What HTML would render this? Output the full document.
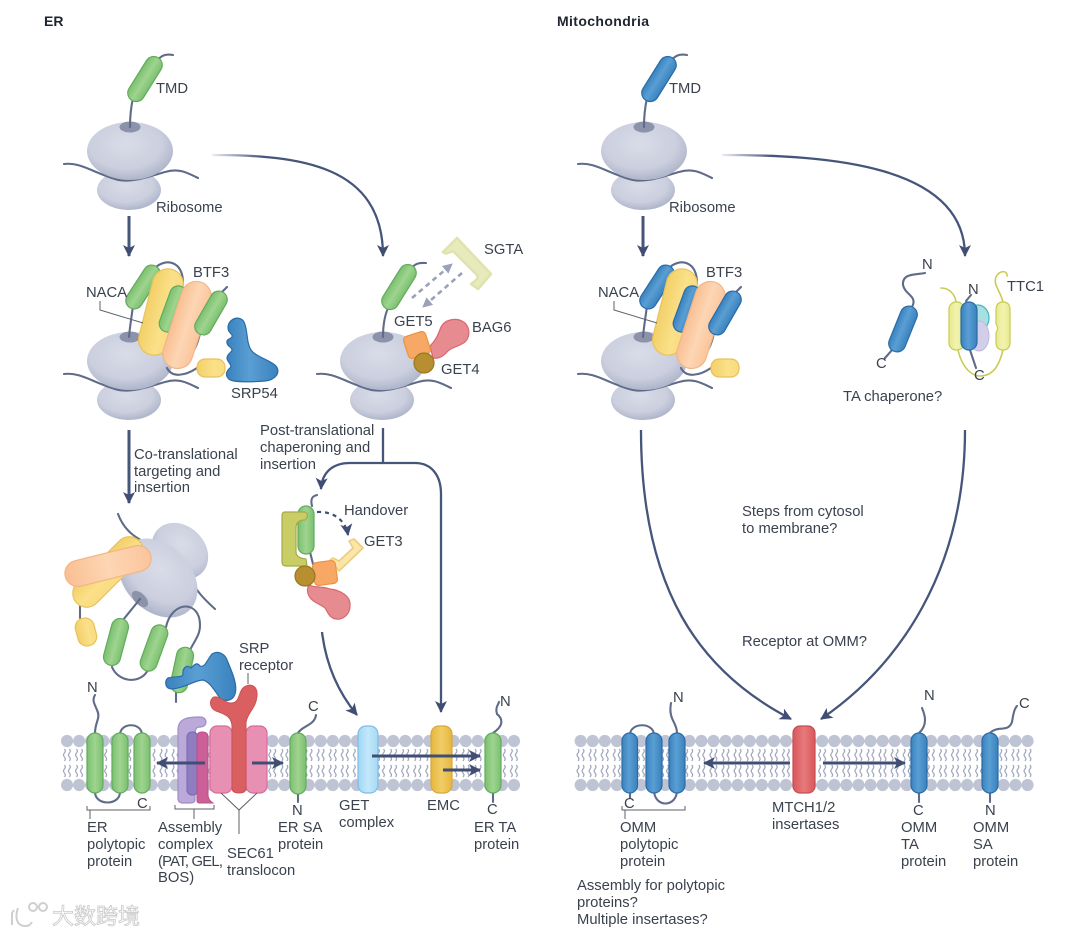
<!DOCTYPE html>
<html><head><meta charset="utf-8"><style>
html,body{margin:0;padding:0;background:#fff}
svg{display:block}
text{font-family:"Liberation Sans","Noto Sans CJK SC",sans-serif;font-size:14.8px;fill:#3a424e}
.b{font-weight:bold;font-size:14px;fill:#1e2530}
.l{fill:none;stroke:#5f6b88;stroke-width:2.1;stroke-linecap:round}
.a{fill:none;stroke:#46557a;stroke-width:2.3}
.s{fill:none;stroke:#46557a;stroke-width:3}
.m{fill:none;stroke:#414e74;stroke-width:3}
.k{fill:none;stroke:#5c6068;stroke-width:1}
.g{fill:url(#gG);stroke:#62ab5c;stroke-width:1.2}
.u{fill:url(#gB);stroke:#2a6ba6;stroke-width:1.2}
.y{fill:url(#gY);stroke:#e8c25c;stroke-width:1.2}
.o{fill:url(#gO);stroke:#f3b585;stroke-width:1.2}
.p{fill:#e68b90;stroke:#d9686f;stroke-width:1.2}
.q{fill:#f6a864;stroke:#ee9242;stroke-width:1.2}
.c{fill:#b78f31;stroke:#997820;stroke-width:1.2}
.t{fill:url(#gT);stroke:#c9cc52;stroke-width:1.2}
.w{fill:none;stroke:#c9cb55;stroke-width:1.6;stroke-linecap:round}
</style></head><body>
<svg xmlns="http://www.w3.org/2000/svg" width="1080" height="936" viewBox="0 0 1080 936">
<defs>
<radialGradient id="rb" cx=".45" cy=".38" r=".68"><stop offset="0" stop-color="#d9dce8"/><stop offset=".62" stop-color="#cbcfde"/><stop offset=".86" stop-color="#b4bace"/><stop offset="1" stop-color="#a6adc3"/></radialGradient>
<linearGradient id="gG"><stop offset="0" stop-color="#7cc070"/><stop offset=".5" stop-color="#9ed48f"/><stop offset="1" stop-color="#7cc070"/></linearGradient>
<linearGradient id="gB"><stop offset="0" stop-color="#3a82bf"/><stop offset=".45" stop-color="#5a9fd3"/><stop offset="1" stop-color="#3a82bf"/></linearGradient>
<linearGradient id="gY"><stop offset="0" stop-color="#f3d068"/><stop offset=".6" stop-color="#fae089"/><stop offset="1" stop-color="#f8dc80"/></linearGradient>
<linearGradient id="gO"><stop offset="0" stop-color="#f9bf92"/><stop offset=".5" stop-color="#fdd6b4"/><stop offset="1" stop-color="#fac59c"/></linearGradient>
<linearGradient id="gT"><stop offset="0" stop-color="#e8ea8e"/><stop offset=".5" stop-color="#f2f3ae"/><stop offset="1" stop-color="#e8ea8e"/></linearGradient>
<linearGradient id="gC"><stop offset="0" stop-color="#9fd6f5"/><stop offset=".5" stop-color="#c3e7fa"/><stop offset="1" stop-color="#a6daf6"/></linearGradient>
<linearGradient id="gE"><stop offset="0" stop-color="#e5b63f"/><stop offset=".5" stop-color="#f0cd68"/><stop offset="1" stop-color="#e5b63f"/></linearGradient>
<linearGradient id="gR"><stop offset="0" stop-color="#d9575c"/><stop offset=".5" stop-color="#e67a7c"/><stop offset="1" stop-color="#d9575c"/></linearGradient>
<linearGradient id="fd" gradientUnits="userSpaceOnUse" x1="212" y1="0" x2="262" y2="0"><stop offset="0" stop-color="#46557a" stop-opacity=".1"/><stop offset="1" stop-color="#46557a"/></linearGradient>
<linearGradient id="fd2" gradientUnits="userSpaceOnUse" x1="722" y1="0" x2="772" y2="0"><stop offset="0" stop-color="#46557a" stop-opacity=".1"/><stop offset="1" stop-color="#46557a"/></linearGradient>
<marker id="ar" markerUnits="userSpaceOnUse" markerWidth="14" markerHeight="14" refX="11" refY="6" orient="auto"><path d="M0 0 L12 6 L0 12 L3 6Z" fill="#414e74"/></marker>
<marker id="ag" markerUnits="userSpaceOnUse" markerWidth="14" markerHeight="14" refX="9" refY="6" orient="auto"><path d="M0 1 L10 6 L0 11Z" fill="#9aa1b8"/></marker>
<pattern id="mem" patternUnits="userSpaceOnUse" x="61" y="734" width="12.08" height="58">
<path d="M3.4 15 q1.8 2 0 4 q-1.8 2 0 4 q1.8 2 0 4 M8.4 15 q1.8 2 0 4 q-1.8 2 0 4 q1.8 2 0 4 M3.4 31 q1.8 2 0 4 q-1.8 2 0 4 q1.8 2 0 4 M8.4 31 q1.8 2 0 4 q-1.8 2 0 4 q1.8 2 0 4" fill="none" stroke="#98a0b8" stroke-width="1.15"/>
<circle cx="6.04" cy="7" r="6.1" fill="#bfc4d4"/><circle cx="6.04" cy="51" r="6.1" fill="#bfc4d4"/>
</pattern>
<pattern id="mem2" patternUnits="userSpaceOnUse" x="574.6" y="734" width="12.08" height="58">
<path d="M3.4 15 q1.8 2 0 4 q-1.8 2 0 4 q1.8 2 0 4 M8.4 15 q1.8 2 0 4 q-1.8 2 0 4 q1.8 2 0 4 M3.4 31 q1.8 2 0 4 q-1.8 2 0 4 q1.8 2 0 4 M8.4 31 q1.8 2 0 4 q-1.8 2 0 4 q1.8 2 0 4" fill="none" stroke="#98a0b8" stroke-width="1.15"/>
<circle cx="6.04" cy="7" r="6.1" fill="#bfc4d4"/><circle cx="6.04" cy="51" r="6.1" fill="#bfc4d4"/>
</pattern>
<g id="top">
<ellipse cx="130" cy="151" rx="43" ry="29" fill="url(#rb)"/>
<ellipse cx="130" cy="127" rx="10.5" ry="5.5" fill="#8b92aa"/>
</g>
<g id="bot">
<ellipse cx="129" cy="190" rx="32" ry="20" fill="url(#rb)"/>
</g>
<g id="rib">
<use href="#bot"/>
<path class="l" d="M64 164 C80 162 92 172 115 179 C130 184 150 176 165 172 C178 168 186 172 198 178"/>
<use href="#top"/>
</g>
</defs>

<rect width="1080" height="936" fill="#fff"/>
<text class="b" x="44" y="26">ER</text>
<text class="b" x="557" y="26" textLength="92">Mitochondria</text>

<!-- top ER -->
<use href="#rib"/>
<path class="l" d="M130 127 C130 115 131 107 133 98"/>
<path class="l" d="M158 60 C162 54 168 54 173 55"/>
<g transform="translate(145,79) rotate(32)"><rect x="-8.5" y="-25" width="17" height="50" rx="8.5" class="g"/></g>
<text x="156" y="93">TMD</text>
<text x="156" y="212">Ribosome</text>

<!-- top Mito -->
<use href="#rib" x="514"/>
<path class="l" d="M644 127 C644 115 645 107 647 98"/>
<path class="l" d="M672 60 C676 54 682 54 687 55"/>
<g transform="translate(659,79) rotate(32)"><rect x="-8.5" y="-25" width="17" height="50" rx="8.5" class="u"/></g>
<text x="669" y="93">TMD</text>
<text x="669" y="212">Ribosome</text>

<!-- main arrows -->
<path class="s" d="M129 216 V256" marker-end="url(#ar)"/>
<path class="s" d="M643 216 V256" marker-end="url(#ar)"/>
<path d="M212 155 C300 155 383 165 383 256" fill="none" stroke="url(#fd)" stroke-width="2.3" marker-end="url(#ar)"/>
<path d="M722 155 C830 155 965 165 965 256" fill="none" stroke="url(#fd2)" stroke-width="2.3" marker-end="url(#ar)"/>
<path class="s" d="M129 430 V503" marker-end="url(#ar)"/>
<path class="a" d="M383 428 V463 H415 C432 463 441 476 441 494 V712" marker-end="url(#ar)"/>
<path class="a" d="M383 463 H350 C333 463 322 472 321 489" marker-end="url(#ar)"/>
<path class="a" d="M322 632 C326 665 338 692 357 715" marker-end="url(#ar)"/>
<path class="a" d="M641 430 C641 590 700 672 791 719" marker-end="url(#ar)"/>
<path class="a" d="M965 430 C965 570 900 665 821 719" marker-end="url(#ar)"/>

<!-- NACA ER -->
<use href="#rib" y="210"/>
<path class="l" d="M129 337 C130 325 132 315 133 305"/>
<path class="l" d="M155 268 C165 258 184 260 183 285"/>
<path class="l" d="M222 292 L227 287"/>
<path class="l" d="M200 333 C196 352 188 362 172 366"/>
<path class="l" d="M197 368 C185 376 172 378 167 368"/>
<g transform="translate(143,287) rotate(33)"><rect x="-8.5" y="-24.5" width="17" height="49" rx="8.5" class="g"/></g>
<g transform="translate(161,312) rotate(14)"><rect x="-15.5" y="-44" width="31" height="88" rx="15.5" class="y"/></g>
<g transform="translate(173,309) rotate(20)"><rect x="-8.5" y="-24" width="17" height="48" rx="8.5" class="g"/></g>
<g transform="translate(187,325) rotate(18)"><rect x="-15" y="-45" width="30" height="90" rx="15" class="o"/></g>
<g transform="translate(211,313) rotate(30)"><rect x="-8.5" y="-24" width="17" height="48" rx="8.5" class="g"/></g>
<rect x="197" y="359" width="28" height="18" rx="8" class="y"/>
<path class="k" d="M100 301 V310 L143 323"/>
<text x="86" y="297">NACA</text>
<text x="193" y="277">BTF3</text>
<path class="u" d="M228 327 C229 318 240 315 244 322 C248 330 246 342 251 350 C256 357 270 360 276 366 C281 373 275 380 265 381 C255 382 240 382 234 381 C226 380 224 373 230 368 C233 365 227 362 227 358 C227 354 232 352 232 350 C232 347 226 346 227 341 C228 338 233 339 232 335 C230 332 228 332 228 327Z"/>
<text x="231" y="398">SRP54</text>

<!-- NACA Mito -->
<use href="#rib" x="514" y="210"/>
<path class="l" d="M643 337 C644 325 646 315 647 305"/>
<path class="l" d="M669 268 C679 258 698 260 697 285"/>
<path class="l" d="M736 292 L741 287"/>
<path class="l" d="M714 333 C710 352 702 362 686 366"/>
<path class="l" d="M711 368 C699 376 686 378 681 368"/>
<g transform="translate(657,287) rotate(33)"><rect x="-8.5" y="-24.5" width="17" height="49" rx="8.5" class="u"/></g>
<g transform="translate(675,312) rotate(14)"><rect x="-15.5" y="-44" width="31" height="88" rx="15.5" class="y"/></g>
<g transform="translate(687,309) rotate(20)"><rect x="-8.5" y="-24" width="17" height="48" rx="8.5" class="u"/></g>
<g transform="translate(701,325) rotate(18)"><rect x="-15" y="-45" width="30" height="90" rx="15" class="o"/></g>
<g transform="translate(725,313) rotate(30)"><rect x="-8.5" y="-24" width="17" height="48" rx="8.5" class="u"/></g>
<rect x="711" y="359" width="28" height="18" rx="8" class="y"/>
<path class="k" d="M614 301 V310 L657 323"/>
<text x="598" y="297">NACA</text>
<text x="706" y="277">BTF3</text>

<!-- GET scene -->
<use href="#rib" x="253" y="210"/>
<path class="l" d="M383 337 C383 325 385 315 388 308"/>
<path class="l" d="M412 268 C416 262 422 263 426 263"/>
<g transform="translate(399,287) rotate(32)"><rect x="-8.5" y="-25" width="17" height="50" rx="8.5" class="g"/></g>
<path d="M443 252 L457 238 L491 274 L478 289 L471 284 C476 280 480 278 476 274 L454 252 C450 250 447 256 443 252Z" fill="#e7eabb" stroke="#e0e3ac" stroke-width="2.5" stroke-linejoin="round"/>
<path d="M412 298 L452 264" fill="none" stroke="#9aa1b8" stroke-width="2.6" stroke-dasharray="5 4" marker-end="url(#ag)"/>
<path d="M462 273 L423 307" fill="none" stroke="#9aa1b8" stroke-width="2.6" stroke-dasharray="5 4" marker-end="url(#ag)"/>
<path class="p" d="M430 346 C436 340 438 335 441 327 C445 319 456 318 462 321 C470 325 471 336 465 342 C458 347 452 347 448 351 C443 357 438 359 433 358Z"/>
<rect x="-11.5" y="-11.5" width="23" height="23" rx="4" transform="translate(417,345) rotate(-18)" class="q"/>
<circle cx="424" cy="363" r="10" class="c"/>
<text x="484" y="254">SGTA</text>
<text x="394" y="326">GET5</text>
<text x="472" y="332">BAG6</text>
<text x="441" y="374">GET4</text>

<text x="260" y="435">Post-translational</text>
<text x="260" y="452">chaperoning and</text>
<text x="260" y="469">insertion</text>
<text x="134" y="459">Co-translational</text>
<text x="134" y="476">targeting and</text>
<text x="134" y="492">insertion</text>

<!-- tilted ribosome -->
<path class="l" d="M118 514 C124 530 135 540 160 548 M188 575 C195 590 205 600 215 609"/>
<ellipse cx="180" cy="551" rx="31" ry="25" transform="rotate(45 180 551)" fill="url(#rb)"/>
<ellipse cx="158" cy="578" rx="45" ry="33" transform="rotate(45 158 578)" fill="url(#rb)"/>
<ellipse cx="140" cy="599" rx="10" ry="5.5" transform="rotate(45 140 599)" fill="#8b92aa"/>
<path class="l" d="M140 599 L123 620"/>
<path class="l" d="M80 606 V618"/>
<path class="l" d="M112 667 C118 682 140 685 148 670"/>
<path class="l" d="M166 627 C172 600 200 600 200 625 C200 635 195 640 190 650"/>
<path class="l" d="M176 692 V702"/>
<g transform="translate(108,572) rotate(45)"><rect x="-14" y="-44" width="28" height="88" rx="14" class="y"/></g>
<rect x="-44" y="-13" width="88" height="26" rx="13" transform="translate(108,566) rotate(-14)" class="o"/>
<g transform="translate(86,632) rotate(-15)"><rect x="-9.5" y="-14" width="19" height="28" rx="9" class="y"/></g>
<g transform="translate(116,642) rotate(15)"><rect x="-8.5" y="-24" width="17" height="48" rx="8.5" class="g"/></g>
<g transform="translate(154,648) rotate(20)"><rect x="-8.5" y="-24" width="17" height="48" rx="8.5" class="g"/></g>
<g transform="translate(182,670) rotate(12)"><rect x="-8.5" y="-23" width="17" height="46" rx="8.5" class="g"/></g>
<path class="u" d="M168 678 C175 676 180 678 183 675 C182 668 187 664 191 668 C195 664 197 662 200 666 C205 668 207 660 212 654 C218 650 225 654 227 660 C232 672 238 685 235 694 C233 701 225 702 220 698 C214 690 210 682 203 680 C195 680 185 688 172 689 C165 689 164 681 168 678Z"/>

<!-- GET3 scene -->
<path class="l" d="M312 506 C310 498 313 496 317 495"/>
<path class="l" d="M310 552 L313 564"/>
<rect x="298" y="506" width="16" height="48" rx="8" class="g"/>
<path d="M285 512 H305 Q310 515 305 520 Q296 520 296 528 V552 Q296 558 306 559 L307 566 H286 Q282 566 282 562 V516 Q282 512 285 512Z" fill="#c9cd66" stroke="#a5aa48" stroke-width="1.2"/>
<path d="M317 512 C335 511 346 522 348 535" fill="none" stroke="#414e74" stroke-width="2.2" stroke-dasharray="4 4" marker-end="url(#ar)"/>
<path d="M330 560 L339 571 L363 548 L354 539 L349 541 L353 548 L339 561 L333 558Z" fill="#fbe5a8" stroke="#eccd80" stroke-width="1.6" stroke-linejoin="round"/>
<path class="p" d="M309 585 C315 588 322 586 330 589 C340 590 351 596 350 606 C350 615 342 620 336 619 C329 618 328 612 325 608 C320 604 312 602 309 596 C307 592 307 588 309 585Z"/>
<rect x="-11.5" y="-11.5" width="23" height="23" rx="4" transform="translate(325,573) rotate(-8)" class="q"/>
<circle cx="305" cy="576" r="10" class="c"/>
<text x="344" y="515">Handover</text>
<text x="364" y="546">GET3</text>

<!-- membranes -->
<rect x="61" y="734" width="459" height="58" fill="url(#mem)"/>
<rect x="574.6" y="734" width="459" height="58" fill="url(#mem2)"/>

<!-- ER membrane proteins -->
<path class="l" d="M95 733 C95 722 101 718 97 710 C94 703 92 700 95 695"/>
<path class="l" d="M120 735 C120 722 142 722 142 735"/>
<path class="l" d="M95 792 C95 806 120 806 120 792"/>
<rect x="87" y="733" width="16" height="60" rx="8" class="g"/>
<rect x="112" y="733" width="16" height="60" rx="8" class="g"/>
<rect x="134" y="733" width="16" height="60" rx="8" class="g"/>
<path d="M178 730 C178 718 188 717 200 717 C208 717 208 727 200 727 C197 727 195 728 195 735 V800 Q195 803 190 803 H183 Q178 803 178 798Z" fill="#bba9da" stroke="#a08cc8" stroke-width="1.2"/>
<rect x="187" y="732" width="11" height="63" rx="5" fill="#8f7dc2" stroke="#7a68b0" stroke-width="1"/>
<path d="M197 737 Q197 732 202 732 Q208 732 208 737 V795 Q208 800 213 803 H199 Q197 803 197 800Z" fill="#cc5f97" stroke="#bb4f86" stroke-width="1"/>
<rect x="210" y="726" width="22" height="67" rx="7" fill="#e88fb4" stroke="#d86c98" stroke-width="1.2"/>
<rect x="246" y="726" width="21" height="67" rx="7" fill="#e88fb4" stroke="#d86c98" stroke-width="1.2"/>
<path d="M232 788 V727 C232 716 224 714 216 711 C209 708 209 699 214 697 C220 696 224 702 230 703 C240 704 238 693 243 688 C248 683 258 684 257 696 C256 708 248 712 246 722 V788 Q246 793 239 793 Q232 793 232 788Z" fill="#d95f61" stroke="#cc5052" stroke-width="1"/>
<path class="k" d="M248 673 V684"/>
<text x="239" y="653">SRP</text>
<text x="239" y="670">receptor</text>
<path class="m" d="M205 763 H157" marker-end="url(#ar)"/>
<path class="m" d="M252 763 H283" marker-end="url(#ar)"/>
<path class="l" d="M298 733 C302 726 315 725 316 715"/>
<path class="l" d="M298 793 V802"/>
<rect x="290" y="733" width="16" height="61" rx="8" class="g"/>
<rect x="358" y="726" width="20" height="67" rx="8" fill="url(#gC)" stroke="#7fbce4" stroke-width="1.2"/>
<rect x="431" y="726" width="21" height="67" rx="8" fill="url(#gE)" stroke="#d9a838" stroke-width="1.2"/>
<path class="l" d="M493 733 C505 725 502 718 497 714 C495 708 498 705 499 702"/>
<path class="l" d="M493 793 V802"/>
<rect x="485" y="733" width="16" height="60" rx="8" class="g"/>
<path class="m" d="M372 756 H480" marker-end="url(#ar)"/>
<path class="m" d="M443 770 H480" marker-end="url(#ar)"/>
<path class="k" d="M87 806 V810 H150 V806 M90 810 V819"/>
<path class="k" d="M175 805 V809 H214 V805 M194 809 V819"/>
<path class="k" d="M221 793 L239 810 L257 793 M239 810 V834"/>
<text x="87" y="692">N</text>
<text x="308" y="711">C</text>
<text x="500" y="706">N</text>
<text x="137" y="808">C</text>
<text x="292" y="815">N</text>
<text x="487" y="814">C</text>
<text x="87" y="832">ER</text><text x="87" y="849">polytopic</text><text x="87" y="866">protein</text>
<text x="158" y="832">Assembly</text><text x="158" y="849">complex</text><text x="158" y="866" textLength="65">(PAT, GEL,</text><text x="158" y="882">BOS)</text>
<text x="227" y="858">SEC61</text><text x="227" y="875">translocon</text>
<text x="278" y="832">ER SA</text><text x="278" y="849">protein</text>
<text x="339" y="810">GET</text><text x="339" y="827">complex</text>
<text x="427" y="810">EMC</text>
<text x="474" y="832">ER TA</text><text x="474" y="849">protein</text>

<!-- Mito right chaperone -->
<path class="l" d="M912 307 C918 296 905 295 903 285 C902 273 915 275 925 273"/>
<path class="l" d="M892 350 L885 358"/>
<g transform="translate(903,329) rotate(22)"><rect x="-8.5" y="-24" width="17" height="48" rx="8.5" class="u"/></g>
<path class="w" d="M941 288 C950 288 955 295 956 302"/>
<path class="w" d="M1003 302 C1000 290 993 285 996 277 C999 270 1008 270 1007 276"/>
<path class="w" d="M958 350 C962 368 972 376 980 376 C995 376 1000 362 1003 350"/>
<rect x="949" y="302" width="15" height="48" rx="7" class="t"/>
<ellipse cx="978" cy="318" rx="11" ry="13" fill="#a9dfe0" stroke="#45b6ba" stroke-width="1.2"/>
<ellipse cx="979" cy="336" rx="10" ry="15" fill="#d2cee9" stroke="#bfb8df" stroke-width="1"/>
<path class="l" d="M966 301 L971 295 M970 350 L976 368"/>
<rect x="961" y="302" width="16" height="48" rx="8" class="u"/>
<path d="M996 310 Q996 302 1003 302 Q1010 302 1010 310 V342 Q1010 350 1003 350 Q996 350 996 342 V333 Q999 328 996 324Z" class="t"/>
<text x="922" y="269">N</text>
<text x="1007" y="291">TTC1</text>
<text x="968" y="294">N</text>
<text x="876" y="368">C</text>
<text x="974" y="380">C</text>
<text x="843" y="401">TA chaperone?</text>
<text x="742" y="516">Steps from cytosol</text>
<text x="742" y="533">to membrane?</text>
<text x="742" y="646">Receptor at OMM?</text>

<!-- Mito membrane proteins -->
<path class="l" d="M630 735 C630 722 654 722 654 735"/>
<path class="l" d="M654 790 C654 808 677 808 677 790"/>
<path class="l" d="M677 733 C677 722 668 720 671 703"/>
<path class="l" d="M630 793 V798"/>
<rect x="622" y="733" width="15.5" height="60" rx="7.7" class="u"/>
<rect x="646" y="733" width="16" height="60" rx="8" class="u"/>
<rect x="669" y="733" width="16" height="60" rx="8" class="u"/>
<rect x="793" y="726" width="22" height="67" rx="7" fill="url(#gR)" stroke="#c94e52" stroke-width="1.2"/>
<path class="m" d="M790 763 H704" marker-end="url(#ar)"/>
<path class="m" d="M823 763 H905" marker-end="url(#ar)"/>
<path class="l" d="M919 733 C928 725 925 715 922 708"/>
<path class="l" d="M919 793 V802"/>
<rect x="911" y="733" width="16" height="60" rx="8" class="u"/>
<path class="l" d="M990 733 C998 725 1008 733 1012 722 C1013 716 1014 709 1017 706"/>
<path class="l" d="M990 793 V802"/>
<rect x="982" y="733" width="16" height="60" rx="8" class="u"/>
<path class="k" d="M622 806 V810 H685 V806 M625 810 V819"/>
<text x="673" y="702">N</text>
<text x="924" y="700">N</text>
<text x="1019" y="708">C</text>
<text x="624" y="808">C</text>
<text x="913" y="815">C</text>
<text x="985" y="815">N</text>
<text x="620" y="832">OMM</text><text x="620" y="849">polytopic</text><text x="620" y="866">protein</text>
<text x="772" y="812">MTCH1/2</text><text x="772" y="829">insertases</text>
<text x="901" y="832">OMM</text><text x="901" y="849">TA</text><text x="901" y="866">protein</text>
<text x="973" y="832">OMM</text><text x="973" y="849">SA</text><text x="973" y="866">protein</text>
<text x="577" y="890">Assembly for polytopic</text>
<text x="577" y="907">proteins?</text>
<text x="577" y="924">Multiple insertases?</text>

<!-- watermark -->
<g fill="none" stroke="#cfcfcf" stroke-width="2">
<path d="M14 910 L12 913 V925 M18 908 C15 916 16 926 25 926 C29 926 30 925 32 922"/>
<circle cx="33" cy="907" r="4"/><circle cx="43" cy="907" r="4"/>
</g>
<text x="52" y="924" style="font-size:22px;fill:#fff;stroke:#c9c9c9;stroke-width:.8;font-family:'Liberation Sans','Noto Sans CJK SC',sans-serif">大数跨境</text>
</svg>
</body></html>
